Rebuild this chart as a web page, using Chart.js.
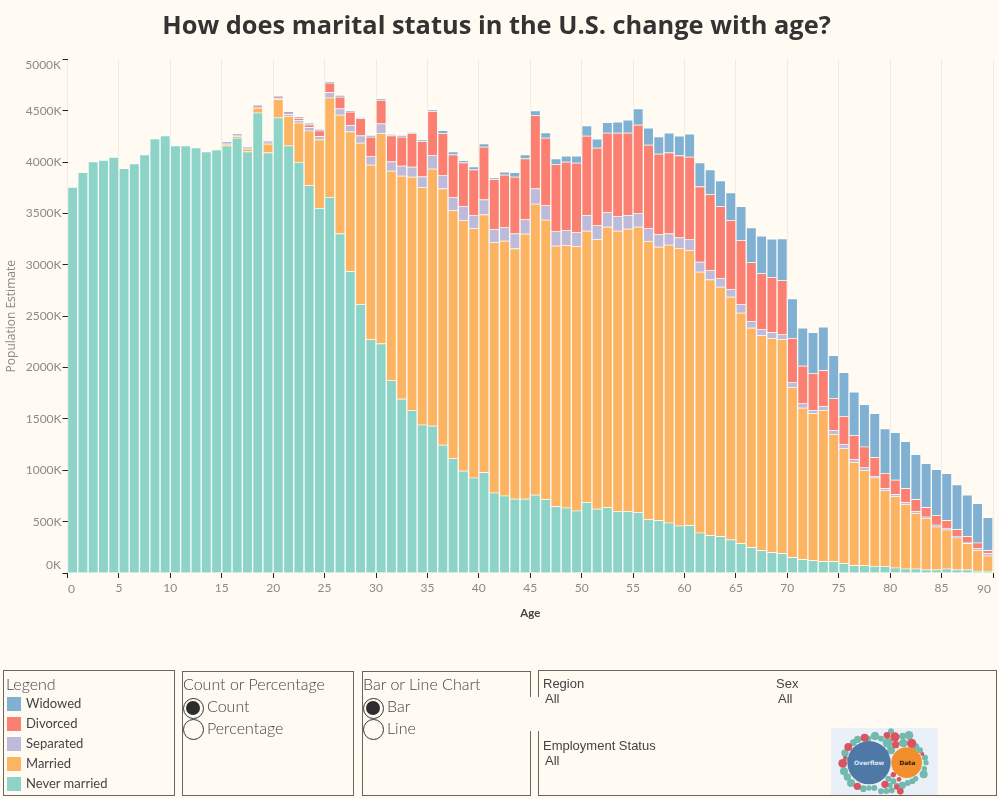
<!DOCTYPE html>
<html>
<head>
<meta charset="utf-8">
<title>Marital status by age</title>
<script src="https://cdn.jsdelivr.net/npm/chart.js@4"></script>
<style>
    html, body { margin: 0; padding: 0; background: #fffbf3; overflow: hidden; }
    body { width: 999px; height: 799px; position: relative; font-family: Lato, sans-serif; }
    #chart { position: absolute; left: 0; top: 0; }
    .box { position: absolute; border: 1.3px solid #6b6659; box-sizing: border-box; }
    .txt { position: absolute; white-space: nowrap; line-height: 1; }
    .head { font-size: 16px; color: #444; font-weight: 300; }
    .arial { font-family: "Liberation Sans", Arial, sans-serif; font-size: 13px; color: #444; }
    .radio { position: absolute; width: 21px; height: 21px; border: 1.2px solid #333; border-radius: 50%; box-sizing: border-box; background: #fffbf3; }
    .radio.on::after { content: ""; position: absolute; left: 2.4px; top: 2.4px; width: 14px; height: 14px; border-radius: 50%; background: #2d2d2d; }
    .swatch { position: absolute; width: 14px; height: 14px; }
    #logo { position: absolute; left: 825px; top: 722px; }
</style>
</head>
<body>
<canvas id="chart" width="999" height="799"></canvas>
<script>
// population by single year of age, thousands
var ages = [];
for (var a = 0; a < 90; a++) ages.push(a);

var neverMarried = [3757, 3900, 4007, 4020, 4049, 3939, 3987, 4075, 4230, 4259,
    4162, 4162, 4142, 4104, 4123, 4162, 4236, 4104, 4482, 4094,
    4434, 4162, 4000, 3774, 3553, 3660, 3306, 2937, 2615, 2274,
    2235, 1875, 1697, 1583, 1444, 1434, 1249, 1116, 996, 928,
    980, 782, 753, 723, 723, 762, 717, 649, 636, 607,
    688, 626, 639, 600, 600, 590, 522, 513, 490, 461,
    464, 393, 367, 357, 325, 289, 250, 221, 201, 192,
    153, 133, 123, 114, 114, 94, 75, 75, 68, 68,
    52, 42, 42, 33, 33, 42, 33, 33, 20, 20];
var married = [0, 0, 0, 0, 0, 0, 0, 0, 0, 0,
    0, 0, 0, 0, 0, 16, 18, 26, 48, 84,
    178, 288, 385, 533, 667, 968, 1155, 1362, 1574, 1701,
    2045, 2041, 2171, 2275, 2310, 2502, 2495, 2414, 2437, 2427,
    2511, 2437, 2482, 2437, 2580, 2833, 2722, 2537, 2557, 2573,
    2644, 2622, 2732, 2732, 2752, 2781, 2710, 2664, 2706, 2702,
    2680, 2540, 2491, 2430, 2365, 2245, 2138, 2092, 2086, 2082,
    1654, 1476, 1431, 1473, 1239, 1119, 1005, 928, 860, 737,
    694, 630, 542, 499, 418, 380, 311, 256, 204, 149];
var separated = [0, 0, 0, 0, 0, 0, 0, 0, 0, 0,
    0, 0, 0, 0, 0, 4, 6, 6, 8, 8,
    12, 18, 25, 33, 32, 52, 62, 62, 71, 81,
    97, 91, 97, 97, 107, 130, 127, 127, 139, 127,
    146, 130, 130, 146, 140, 149, 140, 140, 143, 136,
    153, 136, 140, 140, 133, 130, 123, 120, 110, 104,
    104, 97, 88, 84, 74, 81, 62, 59, 56, 49,
    49, 42, 33, 38, 39, 43, 30, 25, 13, 19,
    20, 19, 20, 16, 19, 16, 16, 13, 16, 23];
var divorced = [0, 0, 0, 0, 0, 0, 0, 0, 0, 0,
    0, 0, 0, 0, 0, 4, 4, 4, 5, 6,
    8, 12, 20, 26, 55, 93, 113, 129, 166, 191,
    227, 253, 282, 325, 341, 428, 409, 418, 425, 447,
    513, 483, 512, 552, 593, 711, 658, 652, 668, 678,
    772, 756, 775, 814, 801, 863, 814, 785, 788, 798,
    804, 733, 740, 698, 669, 623, 574, 545, 535, 526,
    431, 367, 356, 348, 308, 269, 230, 202, 185, 146,
    142, 133, 113, 91, 91, 75, 65, 55, 55, 29];
var widowed = [0, 0, 0, 0, 0, 0, 0, 0, 0, 0,
    0, 0, 0, 0, 0, 8, 8, 6, 10, 12,
    9, 9, 10, 13, 13, 6, 17, 10, 9, 13,
    13, 10, 13, 9, 16, 19, 29, 29, 20, 29,
    32, 16, 30, 42, 39, 48, 52, 58, 58, 68,
    100, 88, 101, 107, 127, 159, 166, 168, 192, 192,
    224, 234, 243, 253, 272, 331, 340, 366, 376, 408,
    386, 370, 400, 425, 419, 428, 425, 412, 428, 435,
    461, 458, 438, 428, 448, 457, 435, 405, 383, 321];

var seriesNames = ['Widowed', 'Divorced', 'Separated', 'Married', 'Never married'];
var seriesColors = ['#80b1d3', '#fb8072', '#bebada', '#fdb462', '#8dd3c7'];
var seriesValues = [widowed, divorced, separated, married, neverMarried];

var xTickFirst = 0, xTickLast = 90, xTickStep = 5;
var yTickFirst = 0, yTickLast = 5000, yTickStep = 500;

function buildPoints(values) {
    return ages.map(function (age, i) {
        return { x: age + 0.5, y: values[i] }; // bars sit between the age ticks
    });
}

// stack from the bottom up, legend lists them top down
var datasets = [];
for (var i = seriesNames.length - 1; i >= 0; i--) {
    datasets.push({
        label: seriesNames[i],
        data: buildPoints(seriesValues[i]),
        backgroundColor: seriesColors[i],
        borderColor: 'rgba(255,255,255,0.42)',
        borderWidth: 1,
        barPercentage: 1,
        categoryPercentage: 1
    });
}

// first and last tick labels are pushed inward, the axis can't do that per tick
var edgeLabels = {
    id: 'edgeLabels',
    afterDraw: function (chart) {
        var c = chart.ctx;
        var xs = chart.scales.x, ys = chart.scales.y;
        c.save();
        c.fillStyle = '#8a8a8a';
        c.font = '12px Lato';
        c.textBaseline = 'middle';
        c.textAlign = 'center';
        c.fillText(String(xTickFirst), xs.getPixelForValue(xTickFirst) + 4, xs.top + 16);
        c.fillText(String(xTickLast), xs.getPixelForValue(xTickLast) - 9, xs.top + 16);
        c.textAlign = 'right';
        c.fillText(yTickFirst + 'K', 61, ys.getPixelForValue(yTickFirst) - 8);
        c.fillText(yTickLast + 'K', 61, ys.getPixelForValue(yTickLast) + 6);
        c.restore();
    }
};

new Chart(document.getElementById('chart'), {
    type: 'bar',
    data: { datasets: datasets },
    plugins: [edgeLabels],
    options: {
        responsive: false,
        animation: false,
        devicePixelRatio: 1,
        layout: { padding: { left: 0, right: 6, top: 0, bottom: 178 } },
        plugins: {
            legend: { display: false },
            tooltip: { enabled: false },
            title: {
                display: true,
                text: 'How does marital status in the U.S. change with age?',
                color: '#333333',
                font: { family: 'Open Sans', size: 25.4, weight: 'bold' },
                padding: { top: 12, bottom: 17 }
            }
        },
        scales: {
            x: {
                type: 'linear',
                stacked: true,
                offset: false,
                min: xTickFirst,
                max: xTickLast,
                afterFit: function (scale) { scale.height = 48; },
                title: {
                    display: true,
                    text: 'Age',
                    color: '#444444',
                    font: { family: 'Lato', size: 11.5, weight: 'bold' },
                    padding: { top: 0, bottom: 1 }
                },
                grid: { offset: false, color: '#f0ece4', tickColor: '#222222', tickLength: 5 },
                border: { display: false },
                ticks: {
                    stepSize: xTickStep,
                    maxRotation: 0,
                    autoSkip: false,
                    color: '#8a8a8a',
                    font: { family: 'Lato', size: 12 },
                    padding: 3,
                    callback: function (v) { return (v === xTickFirst || v === xTickLast) ? '' : String(v); }
                }
            },
            y: {
                stacked: true,
                min: yTickFirst,
                max: yTickLast,
                afterFit: function (scale) { scale.width = 67.5; },
                title: {
                    display: true,
                    text: 'Population Estimate',
                    color: '#8a8a8a',
                    font: { family: 'Open Sans', size: 12 },
                    padding: { top: 4, bottom: 0 }
                },
                grid: { drawOnChartArea: false, tickColor: '#222222', tickLength: 5 },
                border: { display: false },
                ticks: {
                    stepSize: yTickStep,
                    autoSkip: false,
                    color: '#8a8a8a',
                    font: { family: 'Lato', size: 12 },
                    padding: 1,
                    callback: function (v) { return (v === yTickFirst || v === yTickLast) ? '' : v + 'K'; }
                }
            }
        }
    }
});

// dashboard panels under the chart
function addEl(cls, left, top, width, height, text) {
    var el = document.createElement('div');
    el.className = cls;
    el.style.left = left + 'px';
    el.style.top = top + 'px';
    if (width) el.style.width = width + 'px';
    if (height) el.style.height = height + 'px';
    if (text) el.textContent = text;
    document.body.appendChild(el);
    return el;
}

// the circle-pack picture in the last panel, [x, y, r] in a 354x231 box
var logoTeal = [[150,42,13],[98,52,11],[85,62,10],[130,50,9],[168,50,9],[188,62,15],[198,85,12],[233,42,10],[252,40,13],
    [235,63,13],[272,75,11],[285,85,9],[300,107,9],[303,122,8],[298,140,8],[296,157,12],[198,28,9],[60,93,11],[62,110,8],
    [57,148,12],[67,165,11],[78,183,12],[115,200,10],[132,198,8],[148,198,9],[168,208,9],[184,207,9],[200,205,9],
    [190,170,9],[205,178,9],[195,190,8],[215,190,8],[232,190,11],[248,183,9],[262,178,9],[272,170,8]];
var logoRed = [[119,47,12],[70,75,12],[186,40,10],[210,45,14],[212,68,11],[260,64,14],[53,124,13],[60,107,6],[97,193,11],
    [180,187,11],[215,195,8],[226,208,10],[205,158,8],[222,172,7],[292,96,6]];

function logoCircles(list, fill) {
    return list.map(function (c) {
        return '<circle cx="' + c[0] + '" cy="' + c[1] + '" r="' + c[2] + '" fill="' + fill + '"/>';
    }).join('');
}

var logo = document.createElement('div');
logo.id = 'logo';
logo.innerHTML = '<svg width="118" height="73" viewBox="0 0 354 219" font-family="DejaVu Sans" font-weight="bold" font-size="18" text-anchor="middle">' +
    '<rect x="18" y="18" width="320" height="201" fill="#eaf0f8"/>' +
    logoCircles(logoTeal, '#74b9ad') + logoCircles(logoRed, '#d9545f') +
    '<circle cx="132" cy="122" r="65" fill="#4e79a7"/><circle cx="245" cy="122" r="46" fill="#f28e2b"/>' +
    '<text x="132" y="128" fill="#dfe8f3">Overflow</text><text x="247" y="128" fill="#2a1a08">Data</text></svg>';
document.body.appendChild(logo);

addEl('box', 3, 670, 172, 125.5);
addEl('box', 182, 671, 172, 124.5);
addEl('box', 362, 671, 169, 124.5);
addEl('box', 538, 670, 459, 125.5);

// something in the original sits over the panel borders here
var patch = addEl('', 522, 697, 22, 34);
patch.style.position = 'absolute';
patch.style.background = '#fffbf3';

addEl('txt head', 6, 676, 0, 0, 'Legend');
seriesNames.forEach(function (name, i) {
    var y = 697 + i * 20;
    addEl('swatch', 7, y, 0, 0).style.background = seriesColors[i];
    var t = addEl('txt', 26, y, 0, 0, name);
    t.style.fontSize = '13px';
    t.style.color = '#444';
});

addEl('txt head', 183, 676, 0, 0, 'Count or Percentage');
addEl('radio on', 183, 698);
addEl('txt head', 207, 698, 0, 0, 'Count');
addEl('radio', 183, 719);
addEl('txt head', 207, 720, 0, 0, 'Percentage');

addEl('txt head', 363, 676, 0, 0, 'Bar or Line Chart');
addEl('radio on', 363, 698);
addEl('txt head', 387, 698, 0, 0, 'Bar');
addEl('radio', 363, 719);
addEl('txt head', 387, 720, 0, 0, 'Line');

addEl('txt arial', 543, 677, 0, 0, 'Region');
addEl('txt arial', 545, 692, 0, 0, 'All');
addEl('txt arial', 776, 677, 0, 0, 'Sex');
addEl('txt arial', 778, 692, 0, 0, 'All');
addEl('txt arial', 543, 739, 0, 0, 'Employment Status');
addEl('txt arial', 545, 754, 0, 0, 'All');
</script>
</body>
</html>
